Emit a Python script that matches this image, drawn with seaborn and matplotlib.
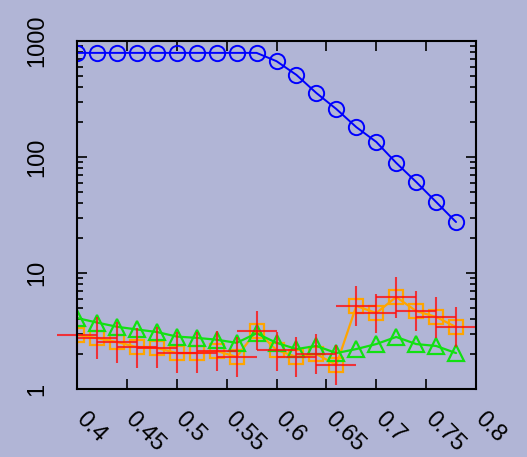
import matplotlib
matplotlib.use("Agg")
import matplotlib.pyplot as plt
import matplotlib.ticker as ticker
import numpy as np
import seaborn as sns

# data
x_vals = [0.40, 0.42, 0.44, 0.46, 0.48, 0.50, 0.52, 0.54, 0.56, 0.58,
          0.60, 0.62, 0.64, 0.66, 0.68, 0.70, 0.72, 0.74, 0.76, 0.78]
blue_vals = [790, 790, 790, 790, 790, 790, 790, 790, 790, 790,
             670, 510, 356, 259, 181, 135, 89, 61, 41, 27.5]
green_vals = [4.09, 3.74, 3.44, 3.26, 3.10, 2.83, 2.76, 2.66, 2.50, 3.02,
              2.50, 2.21, 2.35, 2.04, 2.21, 2.44, 2.81, 2.44, 2.35, 2.04]
orange_vals = [2.92, 2.75, 2.54, 2.30, 2.26, 2.04, 2.04, 2.13, 1.89, 3.16,
               2.17, 1.89, 2.00, 1.61, 5.20, 4.52, 6.21, 4.70, 4.18, 3.42]
orange_low = [1.92, 1.81, 1.68, 1.52, 1.52, 1.37, 1.37, 1.43, 1.27, 2.17,
              1.43, 1.27, 1.35, 1.08, 3.49, 3.04, 4.09, 3.16, 2.75, 2.30]
orange_high = [4.45, 4.18, 3.78, 3.36, 3.43, 3.10, 3.10, 3.16, 2.81, 4.70,
               3.10, 2.81, 2.98, 2.39, 7.73, 6.59, 9.24, 7.00, 6.21, 5.09]
x_halfwidth = 0.02

x_ticks = [0.4, 0.45, 0.5, 0.55, 0.6, 0.65, 0.7, 0.75, 0.8]
x_tick_labels = ["0.4", "0.45", "0.5", "0.55", "0.6", "0.65", "0.7", "0.75", "0.8"]
y_ticks = [1, 10, 100, 1000]
y_tick_labels = ["1", "10", "100", "1000"]

BG = "#b1b5d6"

sns.set_style("ticks")
plt.rcParams["font.family"] = ["Liberation Sans", "DejaVu Sans"]

fig = plt.figure(figsize=(5.27, 4.57), dpi=100, facecolor=BG)
ax = fig.add_axes([77 / 527, 1 - 389 / 457, 399 / 527, 348 / 457])
ax.set_facecolor(BG)

# orange squares
sns.lineplot(x=x_vals, y=orange_vals, ax=ax, color="#ffa500", lw=1.6,
             marker="s", markersize=10, markerfacecolor="none",
             markeredgecolor="#ffa500", markeredgewidth=1.6, zorder=3)
# green triangles
sns.lineplot(x=x_vals, y=green_vals, ax=ax, color="#12e012", lw=1.6,
             marker="^", markersize=11, markerfacecolor="none",
             markeredgecolor="#12e012", markeredgewidth=1.6, zorder=4)
# blue circles
sns.lineplot(x=x_vals, y=blue_vals, ax=ax, color="#0000ff", lw=1.4,
             marker="o", markersize=11, markerfacecolor="none",
             markeredgecolor="#0000ff", markeredgewidth=1.4, zorder=4)

# red error crosses
ov = np.array(orange_vals)
yerr = [ov - np.array(orange_low), np.array(orange_high) - ov]
eb = ax.errorbar(x_vals, orange_vals, yerr=yerr, xerr=x_halfwidth, fmt="none",
                 ecolor="#ff1010", elinewidth=1.5, capsize=0, alpha=0.8, zorder=5)
for col in eb.lines[2]:
    col.set_clip_on(False)

ax.set_yscale("log")
ax.set_xlim(0.4, 0.8)
ax.set_ylim(1, 1000)

# x tick labels drawn as rotated text, nudged right of the tick like gnuplot
ax.set_xticks(x_ticks)
ax.set_xticklabels([])
ax.xaxis.set_minor_locator(ticker.NullLocator())
for t, lbl in zip(x_ticks, x_tick_labels):
    ax.annotate(lbl, xy=(t, 0), xycoords=("data", "axes fraction"),
                xytext=(7, -14), textcoords="offset points",
                rotation=-45, ha="left", va="top", rotation_mode="anchor",
                fontsize=17, color="black", annotation_clip=False)

ax.set_yticks(y_ticks)
ax.set_yticklabels(y_tick_labels, rotation=90, va="center", fontsize=17,
                   color="black")
ax.yaxis.set_minor_locator(ticker.LogLocator(base=10, subs=np.arange(2, 10)))
ax.yaxis.set_minor_formatter(ticker.NullFormatter())

ax.tick_params(which="both", direction="in", top=True, right=True,
               color="black", labelcolor="black", width=1.2)
ax.tick_params(which="major", length=7)
ax.tick_params(which="minor", length=4)
ax.tick_params(axis="y", pad=21)

for s in ax.spines.values():
    s.set_color("black")
    s.set_linewidth(1.5)
    s.set_zorder(6)

ax.set_xlabel("")
ax.set_ylabel("")

fig.savefig("out.png", dpi=100, facecolor=BG)
